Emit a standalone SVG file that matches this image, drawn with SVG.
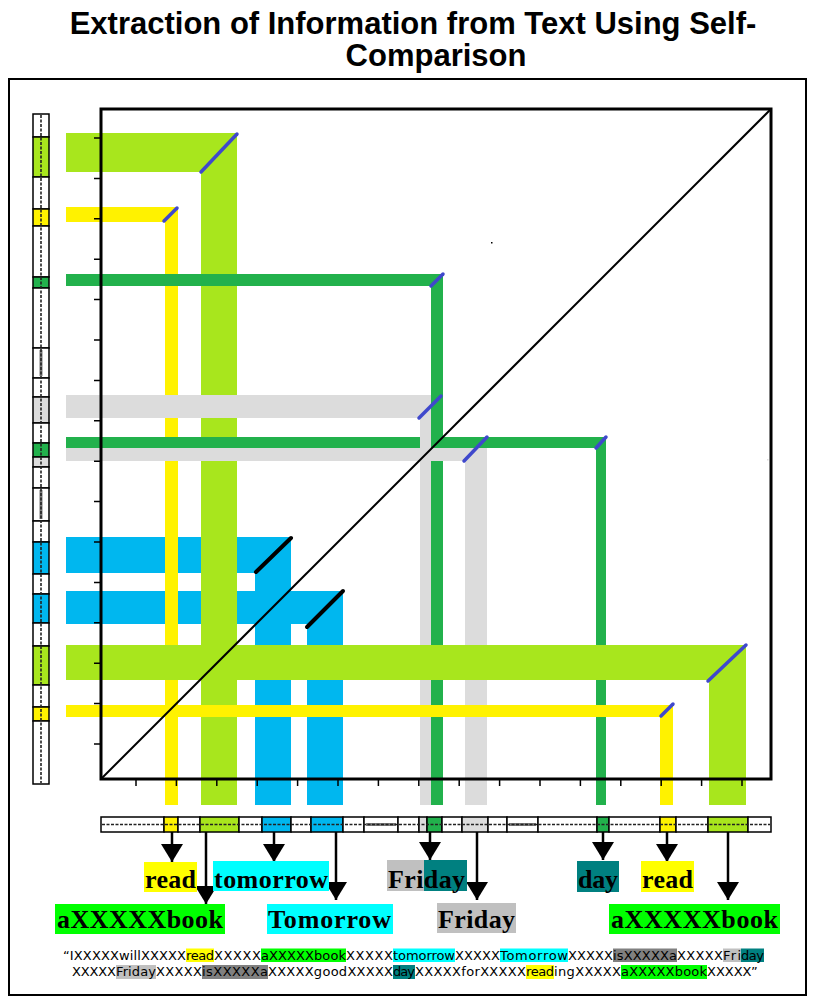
<svg xmlns="http://www.w3.org/2000/svg" width="816" height="1000" viewBox="0 0 816 1000">
<defs>
<marker id="ah" markerUnits="userSpaceOnUse" markerWidth="18" markerHeight="22" refX="18" refY="11" orient="auto" viewBox="0 0 18 22"><path d="M0,0 L18,11 L0,22 z" fill="#000"/></marker>
</defs>
<style>
.lime{fill:#A8E61D}.yel{fill:#FFF200}.grn{fill:#22B14C}.gry{fill:#DCDCDC}.blu{fill:#00B7EF}.wht{fill:#FFFFFF}
.mk{stroke:#3F48CC;stroke-width:3.5;stroke-linecap:round}
.mkb{stroke:#000;stroke-width:4;stroke-linecap:round}
.cell{stroke:#000;stroke-width:1.5}
.dash{stroke:#222;stroke-width:1.6;stroke-dasharray:3 1.5;fill:none}
.dk{fill:#7A7A7A}
.lbl{font-family:"Liberation Serif","Times New Roman",serif;font-weight:bold;font-size:26px;fill:#000}
.src{font-family:"DejaVu Sans",Verdana,sans-serif;font-size:13px;fill:#000}
.title{font-family:"Liberation Sans",Arial,sans-serif;font-weight:bold;font-size:31px;text-anchor:middle;fill:#000}
.arrow{stroke:#000;stroke-width:2.5;fill:none;marker-end:url(#ah)}
.hy{fill:#FFFF00}.hg{fill:#00FF00}.hc{fill:#00FFFF}.hl{fill:#C0C0C0}.hd{fill:#808080}.ht{fill:#008080}
</style>
<rect x="0" y="0" width="816" height="1000" fill="#fff"/>
<g id="title">
<text class="title" x="413" y="34">Extraction of Information from Text Using Self-</text>
<text class="title" x="436" y="66">Comparison</text>
</g>
<rect id="frame" x="9" y="79" width="797" height="916" fill="none" stroke="#000" stroke-width="2"/>
<g id="bands">
<g id="band-blue-1"><rect class="blu" x="66" y="537" width="225" height="36"/><rect class="blu" x="255" y="537" width="36" height="268"/></g>
<g id="band-blue-2"><rect class="blu" x="66" y="591" width="277" height="33"/><rect class="blu" x="307" y="591" width="36" height="214"/></g>
<g id="band-lime-1"><rect class="lime" x="66" y="133" width="171" height="39"/><rect class="lime" x="201" y="133" width="36" height="672"/></g>
<g id="band-yellow-1"><rect class="yel" x="66" y="207" width="112" height="15"/><rect class="yel" x="165" y="207" width="13" height="598"/></g>
<g id="band-gray-1"><rect class="gry" x="66" y="395" width="377" height="23"/><rect class="gry" x="420" y="395" width="23" height="410"/></g>
<g id="band-green-1"><rect class="grn" x="66" y="274" width="377" height="12"/><rect class="grn" x="431" y="274" width="12" height="531"/></g>
<g id="band-green-2"><rect class="grn" x="66" y="437" width="354" height="11"/><rect class="grn" x="431" y="437" width="175" height="11"/><rect class="grn" x="596" y="437" width="10" height="368"/></g>
<g id="band-gray-2"><rect class="gry" x="66" y="448" width="421" height="13"/><rect class="gry" x="465" y="448" width="22" height="357"/></g>
<g id="band-lime-2"><rect class="lime" x="66" y="645" width="680" height="35"/><rect class="lime" x="709" y="645" width="37" height="160"/></g>
<g id="band-yellow-2"><rect class="yel" x="66" y="705" width="607" height="12"/><rect class="yel" x="660" y="705" width="13" height="100"/></g>
</g>
<g id="plot-frame">
<rect x="101" y="109" width="670" height="670" fill="none" stroke="#000" stroke-width="3"/>
<path d="M94,138h7M94,178.4h7M94,218.8h7M94,259.2h7M94,299.6h7M94,340h7M94,380.4h7M94,420.8h7M94,461.2h7M94,501.6h7M94,542h7M94,582.4h7M94,622.8h7M94,663.2h7M94,703.6h7M94,744h7" stroke="#000" stroke-width="1.5"/>
<path d="M136,779v7M176.4,779v7M216.8,779v7M257.2,779v7M297.6,779v7M338,779v7M378.4,779v7M418.8,779v7M459.2,779v7M499.6,779v7M540,779v7M580.4,779v7M620.8,779v7M661.2,779v7M701.6,779v7M742,779v7" stroke="#000" stroke-width="1.5"/>
<line x1="101" y1="779" x2="771" y2="109" stroke="#000" stroke-width="2"/>
<rect x="491" y="242" width="1.5" height="1.5" fill="#000"/>
<rect x="767" y="459" width="1.5" height="1.5" fill="#ddd"/>
</g>
<g id="match-marks">
<line class="mk" x1="201" y1="172" x2="237" y2="134"/>
<line class="mk" x1="164" y1="221" x2="177" y2="208"/>
<line class="mk" x1="431" y1="286" x2="443" y2="274"/>
<line class="mk" x1="419" y1="418" x2="441" y2="396"/>
<line class="mk" x1="464" y1="461" x2="487" y2="437"/>
<line class="mk" x1="596" y1="448" x2="606" y2="437"/>
<line class="mk" x1="708" y1="681" x2="746" y2="645"/>
<line class="mk" x1="661" y1="716" x2="673" y2="704"/>
<line class="mkb" x1="256" y1="572" x2="291" y2="538"/>
<line class="mkb" x1="307" y1="627" x2="343" y2="591"/>
</g>
<g id="strip-left">
<rect class="cell wht" x="33" y="114" width="16" height="23"/>
<rect class="cell lime" x="33" y="137" width="16" height="40"/>
<rect class="cell wht" x="33" y="177" width="16" height="32"/>
<rect class="cell yel" x="33" y="209" width="16" height="17"/>
<rect class="cell wht" x="33" y="226" width="16" height="51"/>
<rect class="cell grn" x="33" y="277" width="16" height="11"/>
<rect class="cell wht" x="33" y="288" width="16" height="60"/>
<rect class="cell wht" x="33" y="348" width="16" height="30"/>
<rect class="cell wht" x="33" y="378" width="16" height="19"/>
<rect class="cell gry" x="33" y="397" width="16" height="26"/>
<rect class="cell wht" x="33" y="423" width="16" height="20"/>
<rect class="cell grn" x="33" y="443" width="16" height="14"/>
<rect class="cell gry" x="33" y="457" width="16" height="10"/>
<rect class="cell wht" x="33" y="467" width="16" height="21"/>
<rect class="cell wht" x="33" y="488" width="16" height="33"/>
<rect class="cell wht" x="33" y="521" width="16" height="21"/>
<rect class="cell blu" x="33" y="542" width="16" height="32"/>
<rect class="cell wht" x="33" y="574" width="16" height="20"/>
<rect class="cell blu" x="33" y="594" width="16" height="29"/>
<rect class="cell wht" x="33" y="623" width="16" height="23"/>
<rect class="cell lime" x="33" y="646" width="16" height="39"/>
<rect class="cell wht" x="33" y="685" width="16" height="22"/>
<rect class="cell yel" x="33" y="707" width="16" height="14"/>
<rect class="cell wht" x="33" y="721" width="16" height="63"/>
<rect class="dk" x="39.5" y="350" width="3" height="26"/>
<rect class="dk" x="39.5" y="490" width="3" height="29"/>
<line class="dash" x1="41" y1="115" x2="41" y2="783"/>
</g>
<g id="strip-bottom">
<rect class="cell wht" x="101" y="817" width="63" height="15"/>
<rect class="cell yel" x="164" y="817" width="14" height="15"/>
<rect class="cell wht" x="178" y="817" width="22" height="15"/>
<rect class="cell lime" x="200" y="817" width="39" height="15"/>
<rect class="cell wht" x="239" y="817" width="23" height="15"/>
<rect class="cell blu" x="262" y="817" width="29" height="15"/>
<rect class="cell wht" x="291" y="817" width="20" height="15"/>
<rect class="cell blu" x="311" y="817" width="32" height="15"/>
<rect class="cell wht" x="343" y="817" width="21" height="15"/>
<rect class="cell wht" x="364" y="817" width="34" height="15"/>
<rect class="cell wht" x="398" y="817" width="21" height="15"/>
<rect class="cell gry" x="419" y="817" width="8" height="15"/>
<rect class="cell grn" x="427" y="817" width="15" height="15"/>
<rect class="cell wht" x="442" y="817" width="20" height="15"/>
<rect class="cell gry" x="462" y="817" width="26" height="15"/>
<rect class="cell wht" x="488" y="817" width="19" height="15"/>
<rect class="cell wht" x="507" y="817" width="31" height="15"/>
<rect class="cell wht" x="538" y="817" width="59" height="15"/>
<rect class="cell grn" x="597" y="817" width="12" height="15"/>
<rect class="cell wht" x="609" y="817" width="51" height="15"/>
<rect class="cell yel" x="660" y="817" width="16" height="15"/>
<rect class="cell wht" x="676" y="817" width="32" height="15"/>
<rect class="cell lime" x="708" y="817" width="40" height="15"/>
<rect class="cell wht" x="748" y="817" width="23" height="15"/>
<rect class="dk" x="366" y="823" width="30" height="3"/>
<rect class="dk" x="509" y="823" width="27" height="3"/>
<line class="dash" x1="102" y1="824.5" x2="770" y2="824.5"/>
</g>
<g id="connectors">
<line class="arrow" x1="172" y1="832" x2="172" y2="862"/>
<line class="arrow" x1="206" y1="832" x2="206" y2="904"/>
<line class="arrow" x1="274" y1="832" x2="274" y2="862"/>
<line class="arrow" x1="336" y1="832" x2="336" y2="900"/>
<line class="arrow" x1="430" y1="832" x2="430" y2="860"/>
<line class="arrow" x1="477" y1="832" x2="477" y2="900"/>
<line class="arrow" x1="603" y1="832" x2="603" y2="860"/>
<line class="arrow" x1="667" y1="832" x2="667" y2="862"/>
<line class="arrow" x1="728" y1="832" x2="728" y2="900"/>
</g>
<g id="label-read-1"><rect class="hy" x="144" y="862" width="53" height="30"/><text class="lbl" x="145" y="888" textLength="51">read</text></g>
<g id="label-tomorrow"><rect class="hc" x="213" y="861" width="116" height="30"/><text class="lbl" x="214" y="888" textLength="114">tomorrow</text></g>
<g id="label-abook-1"><rect class="hg" x="55" y="904" width="170" height="30"/><text class="lbl" x="57" y="928" textLength="166">aXXXXXbook</text></g>
<g id="label-Tomorrow"><rect class="hc" x="267" y="904" width="126" height="30"/><text class="lbl" x="268" y="928" textLength="123">Tomorrow</text></g>
<g id="label-friday-1"><rect class="hl" x="387" y="860" width="37" height="31"/><rect class="ht" x="424" y="860" width="43" height="31"/><text class="lbl" x="388" y="888" textLength="77">Friday</text></g>
<g id="label-friday-2"><rect class="hl" x="437" y="903" width="79" height="30"/><text class="lbl" x="438" y="928" textLength="77">Friday</text></g>
<g id="label-day"><rect class="ht" x="577" y="861" width="42" height="31"/><text class="lbl" x="578" y="888" textLength="40">day</text></g>
<g id="label-read-2"><rect class="hy" x="641" y="861" width="53" height="31"/><text class="lbl" x="642" y="888" textLength="51">read</text></g>
<g id="label-abook-2"><rect class="hg" x="609" y="904" width="171" height="30"/><text class="lbl" x="611" y="928" textLength="167">aXXXXXbook</text></g>
<g id="source-text">
<rect class="hy" x="186" y="948.5" width="28" height="13.5"/>
<rect class="hg" x="261" y="948.5" width="85" height="13.5"/>
<rect class="hc" x="393" y="948.5" width="62" height="13.5"/>
<rect class="hc" x="500" y="948.5" width="68" height="13.5"/>
<rect class="hd" x="613" y="948.5" width="64" height="13.5"/>
<rect class="hl" x="723" y="948.5" width="18" height="13.5"/>
<rect class="ht" x="741" y="948.5" width="23" height="13.5"/>
<rect class="hl" x="116" y="965" width="40" height="14"/>
<rect class="hd" x="202" y="965" width="66" height="14"/>
<rect class="ht" x="393" y="965" width="22" height="14"/>
<rect class="hy" x="526" y="965" width="28" height="14"/>
<rect class="hg" x="621" y="965" width="86" height="14"/>
<text class="src" x="63" y="960" textLength="123">“IXXXXXwillXXXXX</text>
<text class="src" x="186" y="960" textLength="28">read</text>
<text class="src" x="214" y="960" textLength="47">XXXXX</text>
<text class="src" x="261" y="960" textLength="85">aXXXXXbook</text>
<text class="src" x="346" y="960" textLength="47">XXXXX</text>
<text class="src" x="393" y="960" textLength="62">tomorrow</text>
<text class="src" x="455" y="960" textLength="45">XXXXX</text>
<text class="src" x="500" y="960" textLength="68">Tomorrow</text>
<text class="src" x="568" y="960" textLength="45">XXXXX</text>
<text class="src" x="613" y="960" textLength="64">isXXXXXa</text>
<text class="src" x="677" y="960" textLength="46">XXXXX</text>
<text class="src" x="723" y="960" textLength="18">Fri</text>
<text class="src" x="741" y="960" textLength="23">day</text>
<text class="src" x="72" y="976" textLength="44">XXXXX</text>
<text class="src" x="116" y="976" textLength="40">Friday</text>
<text class="src" x="156" y="976" textLength="46">XXXXX</text>
<text class="src" x="202" y="976" textLength="66">isXXXXXa</text>
<text class="src" x="268" y="976" textLength="125">XXXXXgoodXXXXX</text>
<text class="src" x="393" y="976" textLength="22">day</text>
<text class="src" x="415" y="976" textLength="111">XXXXXforXXXXX</text>
<text class="src" x="526" y="976" textLength="28">read</text>
<text class="src" x="554" y="976" textLength="67">ingXXXXX</text>
<text class="src" x="621" y="976" textLength="86">aXXXXXbook</text>
<text class="src" x="707" y="976">XXXXX”</text>
</g>
</svg>
